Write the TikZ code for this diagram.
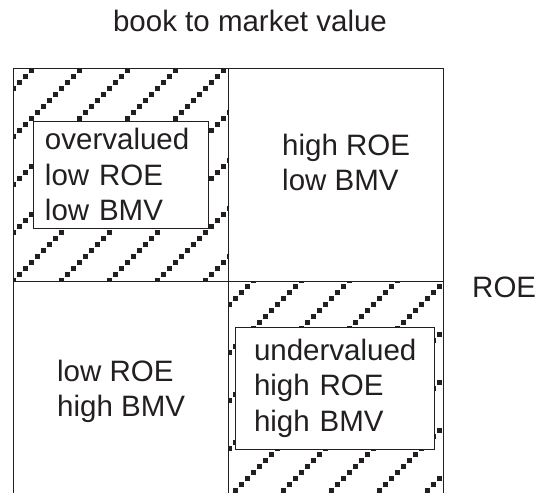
\documentclass[tikz,border=0pt]{standalone}
\usepackage{fontspec}
\setmainfont{Liberation Sans}
\usetikzlibrary{positioning}
\definecolor{ink}{HTML}{231F20}
\tikzset{
  quad/.style={draw=ink, line width=1pt, minimum width=215pt, minimum height=213pt, inner sep=0pt, outer sep=0pt},
  txt/.style={align=left, inner sep=0pt, font=\fontsize{29.5}{35.5}\selectfont, text=ink},
  tag/.style={txt, draw=ink, fill=white, line width=1pt},
  dot/.style={fill=ink},
}
\begin{document}
\begin{tikzpicture}[x=1pt,y=-1pt]
  \useasboundingbox (0,0) rectangle (539,493);
  % quadrants
  \node[quad] (tl) at (120.5,174.5) {};
  \node[quad, right=0pt of tl] (tr) {};
  \node[quad, below=0pt of tl, minimum height=214pt] (bl) {};
  \node[quad, right=0pt of bl] (br) {};
  % hatching
  \begin{scope}
    \clip (tl.south west) rectangle (tl.north east);
    \foreach \c in {53,101,...,533}
      \foreach \j in {0,...,36}
        \fill[dot] ({13+6*\j-2.5},{\c-13-6*\j-2.5}) rectangle ++(5,5);
  \end{scope}
  \begin{scope}
    \clip (br.south west) rectangle (br.north east);
    \foreach \c in {485,533,...,917}
      \foreach \j in {35,...,72}
        \fill[dot] ({13+6*\j-2.5},{\c-13-6*\j-2.5}) rectangle ++(5,5);
  \end{scope}
  % labels
  \node[tag, text width=151pt, inner xsep=12pt, minimum height=107pt] (over) at (120.5,174.5) {overvalued\\low ROE\\low BMV};
  \node[tag, text width=161pt, inner xsep=19pt, minimum height=122pt] (under) at (334.5,388) {undervalued\\high ROE\\high BMV};
  \node[txt, anchor=west] (hl) at (282,162.5) {high ROE\\low BMV};
  \node[txt, anchor=west] (lh) at (57,391.5) {low ROE\\high BMV};
  \node[txt, anchor=west] (roe) at (472,287) {ROE};
  \node[txt, anchor=base] (bmv) at (250,31) {book to market value};
\end{tikzpicture}
\end{document}
